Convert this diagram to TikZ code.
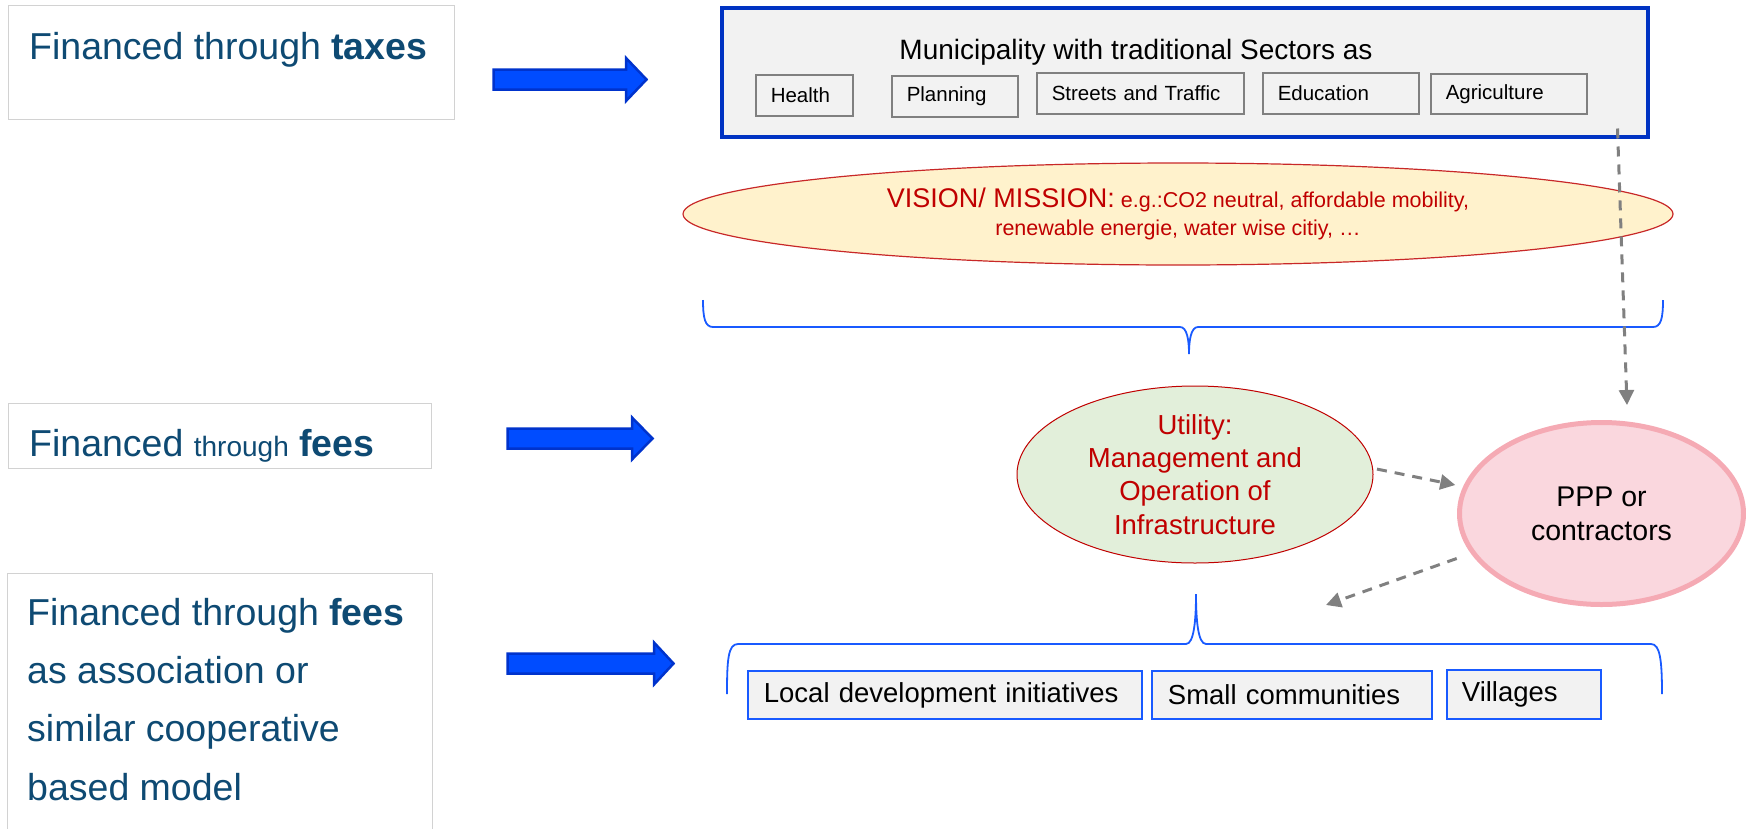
\documentclass[tikz,border=0pt]{standalone}
\usepackage{fontspec}
\setmainfont{Liberation Sans}
\usepackage{xcolor}
\usetikzlibrary{arrows.meta,shapes.geometric}

\definecolor{finblue}{RGB}{14,74,115}
\definecolor{boxgray}{RGB}{210,210,210}
\definecolor{arrowfill}{RGB}{0,76,255}
\definecolor{arrowedge}{RGB}{0,51,204}
\definecolor{munblue}{RGB}{0,51,195}
\definecolor{panelgray}{RGB}{242,242,242}
\definecolor{sectorgray}{RGB}{128,128,128}
\definecolor{visionfill}{RGB}{255,242,204}
\definecolor{visionedge}{RGB}{200,40,40}
\definecolor{darkred}{RGB}{192,0,0}
\definecolor{utilfill}{RGB}{226,239,218}
\definecolor{pppfill}{RGB}{250,215,222}
\definecolor{pppedge}{RGB}{245,170,180}
\definecolor{bracecol}{RGB}{25,90,255}
\definecolor{dashgray}{RGB}{128,128,128}

\tikzset{
  finbox/.style={draw=boxgray, line width=1pt, fill=white, anchor=north west, inner sep=0pt},
  fintext/.style={text=finblue, anchor=base west, inner sep=0pt, align=left, font=\fontsize{37.5}{58.3}\selectfont},
  fatarrow/.style={draw=arrowedge, fill=arrowfill, line width=2.5pt, line join=miter},
  sectorbox/.style={draw=sectorgray, line width=1.5pt, fill=panelgray, anchor=north west, inner xsep=15pt, inner ysep=0pt, align=left, font=\fontsize{20.5}{24}\selectfont},
  placebox/.style={draw=bracecol, line width=1.8pt, fill=panelgray, anchor=north west, inner xsep=16pt, inner ysep=0pt, minimum height=48pt, align=left, font=\fontsize{27.5}{33}\selectfont},
  curly/.style={draw=bracecol, line width=1.8pt},
  dasharrow/.style={draw=dashgray, line width=3pt, dash pattern=on 10pt off 8pt, -{Triangle[length=15pt,width=15pt]}}
}

\begin{document}
\begin{tikzpicture}[x=1pt,y=-1pt]
\useasboundingbox (0,0) rectangle (1746,828);

\node[finbox, minimum width=446pt, minimum height=114pt] (taxbox) at (8,5) {};
\node[fintext] (taxtext) at (29,59) {Financed through \textbf{taxes}};
\node[finbox, minimum width=423pt, minimum height=65pt] (feebox) at (8,403) {};
\node[fintext] (feetext) at (29,456) {Financed {\fontsize{28}{34}\selectfont through} \textbf{fees}};
\node[finbox, minimum width=425pt, minimum height=270pt] (coopbox) at (7,573) {};
\node[fintext] (cooptext) at (27,800) {Financed through \textbf{fees}\\as association or\\similar cooperative\\based model};

\draw[fatarrow] (493.5,69.5) -- (626,69.5) -- (626,58) -- (646.5,79.5) -- (626,101) -- (626,89.5) -- (493.5,89.5) -- cycle;
\draw[fatarrow] (507.5,428.5) -- (632,428.5) -- (632,417.5) -- (652.5,438.5) -- (632,459.5) -- (632,448.5) -- (507.5,448.5) -- cycle;
\draw[fatarrow] (507.5,653.5) -- (654,653.5) -- (654,642.5) -- (673.5,663.5) -- (654,684.5) -- (654,673.5) -- (507.5,673.5) -- cycle;

\node[draw=munblue, line width=3.5pt, fill=panelgray, anchor=north west, minimum width=926pt, minimum height=129pt, inner sep=0pt] (muni) at (720,6) {};
\node[anchor=base, inner sep=0pt, font=\fontsize{28}{34}\selectfont] (munititle) at (1136,59) {Municipality with traditional Sectors as};
\node[sectorbox, text width=67pt, minimum height=41pt] (health) at (755,74) {Health};
\node[sectorbox, text width=96pt, minimum height=41pt] (planning) at (891,75) {Planning};
\node[sectorbox, text width=177pt, minimum height=41pt] (streets) at (1036,72) {Streets and Traffic};
\node[sectorbox, text width=126pt, minimum height=41pt] (education) at (1262,72) {Education};
\node[sectorbox, text width=126pt, minimum height=40pt] (agriculture) at (1430,73) {Agriculture};

\node[ellipse, draw=visionedge, line width=1.2pt, fill=visionfill, minimum width=990pt, minimum height=102pt, inner sep=0pt, text=darkred, align=center, font=\fontsize{21.5}{28}\selectfont] (vision) at (1178,214) {{\fontsize{27}{28}\selectfont VISION/ MISSION:} e.g.:CO2 neutral, affordable mobility,\\renewable energie, water wise citiy, …};

\draw[curly] (703,300) .. controls (703,318) and (705,327) .. (713,327) -- (1180,327) .. controls (1187,327) and (1189,340) .. (1189,354) .. controls (1189,340) and (1191,327) .. (1198,327) -- (1653,327) .. controls (1661,327) and (1663,318) .. (1663,300);

\node[ellipse, draw=darkred, line width=1pt, fill=utilfill, minimum width=356pt, minimum height=177pt, inner sep=0pt, text=darkred, align=center, font=\fontsize{27.5}{33.3}\selectfont] (util) at (1195,474.5) {Utility:\\Management and\\Operation of\\Infrastructure};
\node[ellipse, draw=pppedge, line width=5pt, fill=pppfill, minimum width=284pt, minimum height=182pt, inner sep=0pt, align=center, font=\fontsize{28.5}{34}\selectfont] (ppp) at (1601.5,513.5) {PPP or\\contractors};
\coordinate (hub) at (1326,605);

\draw[curly] (727,694) .. controls (727,660) and (728,644) .. (738,644) -- (1186,644) .. controls (1194,644) and (1196,620) .. (1196,594) .. controls (1196,620) and (1198,644) .. (1206,644) -- (1651,644) .. controls (1660,644) and (1662,660) .. (1662,694);

\node[placebox, text width=362pt] (local) at (747,670) {Local development initiatives};
\node[placebox, text width=248pt] (small) at (1151,670) {Small communities};
\node[placebox, inner xsep=15pt, text width=124pt, minimum height=49pt] (villages) at (1446,669) {Villages};

\draw[dasharrow, shorten >=15pt] ([xshift=-32pt,yshift=10pt]muni.south east) -- ([xshift=26pt]ppp.north);
\draw[dasharrow, shorten <=4pt, shorten >=8pt] (util.2) -- (ppp.169);
\draw[dasharrow, shorten <=15pt] (ppp.197) -- (hub);
\end{tikzpicture}
\end{document}
